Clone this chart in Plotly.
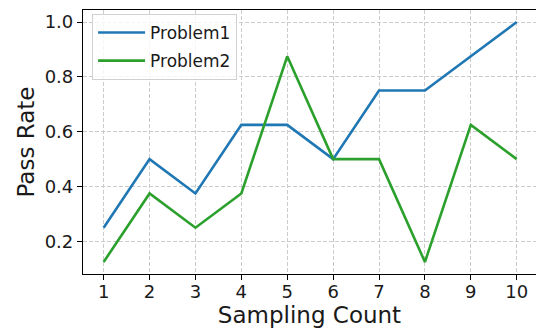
import plotly.graph_objects as go

sampling_count = [1, 2, 3, 4, 5, 6, 7, 8, 9, 10]
problem1 = [0.25, 0.5, 0.375, 0.625, 0.625, 0.5, 0.75, 0.75, 0.875, 1.0]
problem2 = [0.125, 0.375, 0.25, 0.375, 0.875, 0.5, 0.5, 0.125, 0.625, 0.5]
y_ticks = [0.2, 0.4, 0.6, 0.8, 1.0]

fig = go.Figure()
fig.add_trace(go.Scatter(x=sampling_count, y=problem1, mode="lines", name="Problem1",
                         legendgroup="a",
                         line=dict(color="#1f77b4", width=2.6)))
fig.add_trace(go.Scatter(x=sampling_count, y=problem2, mode="lines", name="Problem2",
                         legendgroup="b",
                         line=dict(color="#2ca02c", width=2.6)))

axis_common = dict(
    showgrid=True, gridcolor="#cccccc", griddash="4px,2px", gridwidth=1,
    showline=True, linecolor="black", linewidth=1.2,
    ticks="outside", ticklen=5, tickwidth=1, tickcolor="black",
    tickfont=dict(family="DejaVu Sans", size=18, color="#1a1a1a"),
    zeroline=False, automargin=False,
)

fig.update_layout(
    width=536, height=329,
    margin=dict(l=83, r=0, t=10, b=55),
    paper_bgcolor="white", plot_bgcolor="white",
    font=dict(family="DejaVu Sans", color="#1a1a1a"),
    xaxis=dict(range=[0.55, 10.42], tickvals=sampling_count, mirror=True,
               ticklabelstandoff=-4,
               title=dict(text="Sampling Count", font=dict(size=23), standoff=0),
               **axis_common),
    yaxis=dict(range=[0.08125, 1.04375], tickvals=y_ticks, tickformat=".1f",
               title=dict(text="Pass Rate", font=dict(size=23), standoff=3),
               **axis_common),
    legend=dict(x=0.02, y=0.985, xanchor="left", yanchor="top",
                bgcolor="rgba(255,255,255,0.8)", bordercolor="#d0d0d0", borderwidth=1,
                font=dict(family="DejaVu Sans", size=17, color="#1a1a1a"),
                itemwidth=47, tracegroupgap=3),
    showlegend=True,
)

fig.write_html("out.html")
